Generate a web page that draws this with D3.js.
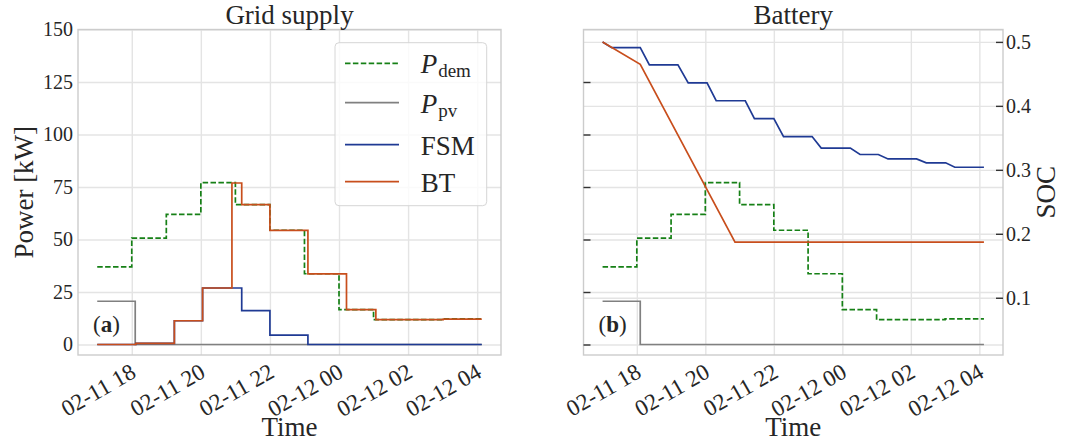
<!DOCTYPE html>
<html>
<head>
<meta charset="utf-8">
<script src="https://cdn.jsdelivr.net/npm/d3@7"></script>
<style>
body { margin: 0; background: #fff; }
text { font-family: "Liberation Serif", "DejaVu Serif", serif; fill: #262626; }
.grid path { display: none; }
.grid line { stroke: #e4e4e4; stroke-width: 1.4; }
.ax path { display: none; }
</style>
</head>
<body>
<div id="chart"></div>
<script>
// values (times are month-day hour:minute)

// demand, grid supply panel and battery panel (left power axis)
var demTime  = ["02-11 17:00", "02-11 18:00", "02-11 19:00", "02-11 20:00", "02-11 21:00", "02-11 22:00",
                "02-11 23:00", "02-12 00:00", "02-12 01:00", "02-12 03:00", "02-12 04:08"];
var demValue = [37.0, 50.7, 62.0, 77.1, 66.6, 54.4, 33.7, 16.6, 11.8, 12.2, 12.2];

// pv
var pvTime  = ["02-11 17:00", "02-11 18:06", "02-12 04:08"];
var pvValue = [20.6, 0, 0];

// grid supply with FSM
var fsmTime  = ["02-11 17:00", "02-11 18:07", "02-11 19:14", "02-11 20:03", "02-11 21:11", "02-11 22:00",
                "02-11 23:06", "02-12 04:08"];
var fsmValue = [0, 0.5, 11.3, 26.9, 16.1, 4.5, 0, 0];

// grid supply with BT
var btTime  = ["02-11 17:00", "02-11 18:07", "02-11 19:14", "02-11 20:03", "02-11 20:54", "02-11 21:11",
               "02-11 22:00", "02-11 23:06", "02-12 00:13", "02-12 01:04", "02-12 03:01", "02-12 04:08"];
var btValue = [0, 0.5, 11.3, 26.9, 76.9, 66.6, 54.3, 33.6, 16.6, 11.8, 12.1, 12.1];

// battery state of charge
var socFsmTime  = ["02-11 17:00", "02-11 17:16", "02-11 18:06", "02-11 18:22", "02-11 19:12", "02-11 19:30",
                   "02-11 20:03", "02-11 20:19", "02-11 21:10", "02-11 21:26", "02-11 22:00", "02-11 22:17",
                   "02-11 23:07", "02-11 23:23", "02-12 00:14", "02-12 00:31", "02-12 01:03", "02-12 01:20",
                   "02-12 02:10", "02-12 02:27", "02-12 03:01", "02-12 03:17", "02-12 04:08"];
var socFsmValue = [0.5, 0.491, 0.491, 0.464, 0.464, 0.436, 0.436, 0.408, 0.408, 0.380, 0.380, 0.352,
                   0.352, 0.334, 0.334, 0.324, 0.324, 0.317, 0.317, 0.311, 0.311, 0.304, 0.304];

var socBtTime  = ["02-11 17:00", "02-11 18:06", "02-11 20:52", "02-12 04:08"];
var socBtValue = [0.5, 0.465, 0.187, 0.187];

// tick labels
var powerTicks = [0, 25, 50, 75, 100, 125, 150];
var socTicks = [0.1, 0.2, 0.3, 0.4, 0.5];

var colors = {dem: "#168016", pv: "#808080", fsm: "#1f3a94", bt: "#c84e1c"};

var parseTime = d3.timeParse("%m-%d %H:%M");
function series(times, values) {
    return times.map(function(t, i) { return {date: parseTime(t), value: values[i]}; });
}
var dem = series(demTime, demValue),
    pv = series(pvTime, pvValue),
    fsm = series(fsmTime, fsmValue),
    bt = series(btTime, btValue),
    socFsm = series(socFsmTime, socFsmValue),
    socBt = series(socBtTime, socBtValue);

// layout
var mTop = 29.5, h = 355 - mTop;
var leftA = 78, wA = 501 - leftA;
var leftB = 583.5, wB = 1003 - leftB;
var labelSize = "27px", tickSize = "20px", xTickSize = "23px";

var svg = d3.select("#chart").append("svg")
    .attr("width", 1066)
    .attr("height", 441);

// time range with 5% margins like matplotlib
var ext = d3.extent(dem.concat(pv, fsm, bt, socFsm, socBt), function(d) { return d.date; });
var pad = (ext[1] - ext[0]) * 0.05;
var xDomain = [new Date(+ext[0] - pad), new Date(+ext[1] + pad)];

var xA = d3.scaleTime().domain(xDomain).range([0, wA]);
var xB = d3.scaleTime().domain(xDomain).range([0, wB]);
var yP = d3.scaleLinear().domain([-5, 150]).range([h, 0]);
var yS = d3.scaleLinear().domain([0.0105, 0.5194]).range([h, 0]);

var fmt = d3.timeFormat("%m-%d %H");

function drawGrid(g, x, w, y, ticks) {
    g.append("g").attr("class", "grid")
        .attr("transform", "translate(0," + h + ")")
        .call(d3.axisBottom(x).ticks(d3.timeHour.every(2)).tickSize(-h).tickFormat(""));
    g.append("g").attr("class", "grid")
        .call(d3.axisLeft(y).tickValues(ticks).tickSize(-w).tickFormat(""));
}

function drawXAxis(g, x, w) {
    var ax = g.append("g").attr("class", "ax")
        .attr("transform", "translate(0," + h + ")")
        .call(d3.axisBottom(x).ticks(d3.timeHour.every(2)).tickSize(0).tickFormat(fmt));
    ax.attr("font-family", null).attr("font-size", null);
    ax.selectAll("text")
        .attr("font-size", xTickSize)
        .attr("fill", "#262626")
        .attr("text-anchor", "end")
        .attr("x", 0).attr("y", 0).attr("dy", "0.72em")
        .attr("transform", "translate(-3,7) rotate(-30)");

    g.append("text")
        .attr("x", w / 2)
        .attr("y", 436 - mTop)
        .attr("text-anchor", "middle")
        .attr("font-size", labelSize)
        .text("Time");
}

function stepLine(x, y) {
    return d3.line()
        .x(function(d) { return x(d.date); })
        .y(function(d) { return y(d.value); })
        .curve(d3.curveStepAfter);
}

function addPath(g, data, gen, color, dashed) {
    g.append("path")
        .datum(data)
        .attr("fill", "none")
        .attr("stroke", color)
        .attr("stroke-width", 1.7)
        .attr("stroke-dasharray", dashed ? "5.5,2.4" : null)
        .attr("d", gen);
}

function panelLabel(g, letter) {
    var t = g.append("text")
        .attr("x", 15)
        .attr("y", 332 - mTop)
        .attr("font-size", "23px");
    t.append("tspan").text("(");
    t.append("tspan").attr("font-weight", "bold").text(letter);
    t.append("tspan").text(")");
}

// ---------- (a) Grid supply ----------
var gA = svg.append("g").attr("transform", "translate(" + leftA + "," + mTop + ")");
drawGrid(gA, xA, wA, yP, powerTicks);

var lineA = stepLine(xA, yP);
addPath(gA, dem, lineA, colors.dem, true);
addPath(gA, pv, lineA, colors.pv, false);
addPath(gA, fsm, lineA, colors.fsm, false);
addPath(gA, bt, lineA, colors.bt, false);

gA.append("rect")
    .attr("width", wA).attr("height", h)
    .attr("fill", "none").attr("stroke", "#cccccc").attr("stroke-width", 1.4);

var yAxA = gA.append("g").attr("class", "ax")
    .call(d3.axisLeft(yP).tickValues(powerTicks).tickSize(0).tickPadding(5));
yAxA.attr("font-family", null).attr("font-size", null);
yAxA.selectAll("text").attr("font-size", tickSize).attr("fill", "#262626");

drawXAxis(gA, xA, wA);

gA.append("text")
    .attr("transform", "translate(" + (33 - leftA) + "," + (h / 2) + ") rotate(-90)")
    .attr("text-anchor", "middle")
    .attr("font-size", labelSize)
    .text("Power [kW]");

gA.append("text")
    .attr("x", wA / 2).attr("y", 24 - mTop)
    .attr("text-anchor", "middle")
    .attr("font-size", labelSize)
    .text("Grid supply");

panelLabel(gA, "a");

// legend
var legend = gA.append("g").attr("transform", "translate(257,13.2)");
legend.append("rect")
    .attr("width", 151.7).attr("height", 163).attr("rx", 4)
    .attr("fill", "#fff").attr("fill-opacity", 0.8)
    .attr("stroke", "#d6d6d6").attr("stroke-width", 1);

var legendItems = [
    {main: "P", sub: "dem", color: colors.dem, dashed: true, y: 20.6},
    {main: "P", sub: "pv", color: colors.pv, dashed: false, y: 60},
    {main: "FSM", sub: null, color: colors.fsm, dashed: false, y: 102},
    {main: "BT", sub: null, color: colors.bt, dashed: false, y: 139}
];
legendItems.forEach(function(d) {
    legend.append("line")
        .attr("x1", 10).attr("x2", 64)
        .attr("y1", d.y).attr("y2", d.y)
        .attr("stroke", d.color).attr("stroke-width", 1.7)
        .attr("stroke-dasharray", d.dashed ? "5.5,2.4" : null);
    var t = legend.append("text")
        .attr("x", 85.7).attr("y", d.y + 10)
        .attr("font-size", labelSize);
    if (d.sub) {
        t.append("tspan").attr("font-style", "italic").text(d.main);
        t.append("tspan").attr("font-size", "19px").attr("dy", 4).attr("dx", 1).text(d.sub);
    } else {
        t.text(d.main);
    }
});

// ---------- (b) Battery ----------
var gB = svg.append("g").attr("transform", "translate(" + leftB + "," + mTop + ")");
drawGrid(gB, xB, wB, yP, powerTicks);
gB.append("g").attr("class", "grid")
    .call(d3.axisLeft(yS).tickValues(socTicks).tickSize(-wB).tickFormat(""));

var lineB = stepLine(xB, yP);
addPath(gB, dem, lineB, colors.dem, true);
addPath(gB, pv, lineB, colors.pv, false);

var socLine = d3.line()
    .x(function(d) { return xB(d.date); })
    .y(function(d) { return yS(d.value); });
addPath(gB, socFsm, socLine, colors.fsm, false);
addPath(gB, socBt, socLine, colors.bt, false);

gB.append("rect")
    .attr("width", wB).attr("height", h)
    .attr("fill", "none").attr("stroke", "#cccccc").attr("stroke-width", 1.4);

// inward ticks, left axis without labels
var yAxB = gB.append("g").attr("class", "ax")
    .call(d3.axisLeft(yP).tickValues(powerTicks.filter(function(v) { return v < 150; })).tickSize(-7).tickFormat(""));
yAxB.selectAll("line").attr("stroke", "#333").attr("stroke-width", 1.4);

var yAxS = gB.append("g").attr("class", "ax")
    .attr("transform", "translate(" + wB + ",0)")
    .call(d3.axisRight(yS).tickValues(socTicks).tickSize(-7).tickPadding(3).tickFormat(d3.format(".1f")));
yAxS.attr("font-family", null).attr("font-size", null);
yAxS.selectAll("line").attr("stroke", "#333").attr("stroke-width", 1.4);
yAxS.selectAll("text").attr("font-size", tickSize).attr("fill", "#262626").attr("x", 3);

drawXAxis(gB, xB, wB);

gB.append("text")
    .attr("transform", "translate(" + (1055 - leftB) + "," + (h / 2) + ") rotate(-90)")
    .attr("text-anchor", "middle")
    .attr("font-size", labelSize)
    .text("SOC");

gB.append("text")
    .attr("x", wB / 2).attr("y", 24 - mTop)
    .attr("text-anchor", "middle")
    .attr("font-size", labelSize)
    .text("Battery");

panelLabel(gB, "b");
</script>
</body>
</html>
